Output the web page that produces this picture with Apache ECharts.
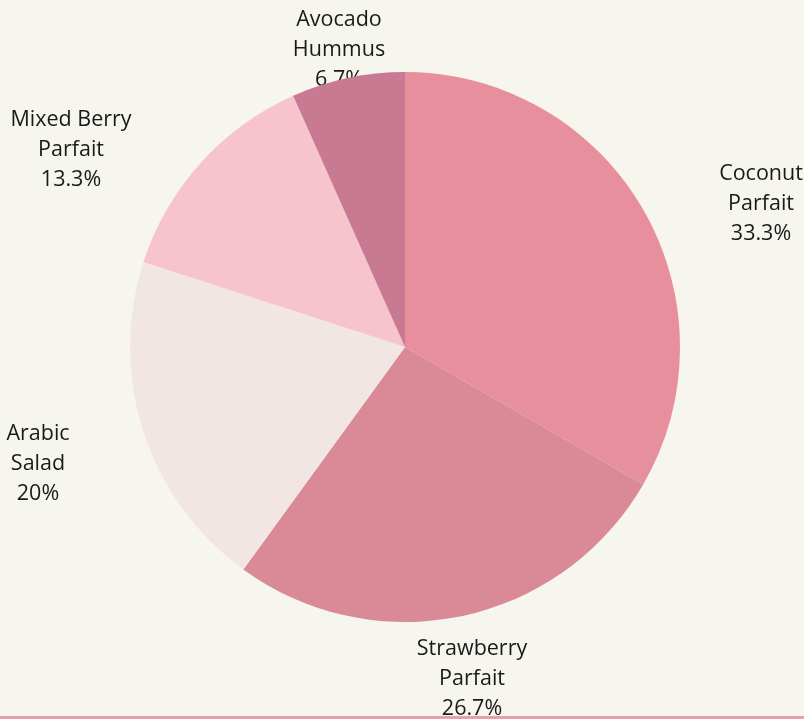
<!DOCTYPE html>
<html>
<head>
<meta charset="utf-8">
<script src="https://cdn.jsdelivr.net/npm/echarts@6/dist/echarts.min.js"></script>
<style>
html,body{margin:0;padding:0;background:#f6f5ee;}
#chart{width:804px;height:716px;border-bottom:3px solid #e8a1ab;}
</style>
</head>
<body>
<div id="chart"></div>
<script>
const categories = ['Coconut Parfait', 'Strawberry Parfait', 'Arabic Salad', 'Mixed Berry Parfait', 'Avocado Hummus'];
const values = [5, 4, 3, 2, 1];
const colors = ['#e88f9e', '#d98a96', '#f1e6e3', '#f7c3cc', '#c97a93'];
// label centres (page pixels) as placed in the reference
const labelCenters = [[761, 204], [472, 679], [38, 464], [71, 150], [339, 50]];

const data = categories.map((c, i) => ({ name: c, value: values[i], itemStyle: { color: colors[i] } }));
const chart = echarts.init(document.getElementById('chart'));
const common = {
  type: 'pie',
  center: [405, 347],
  radius: [0, 275],
  startAngle: 90,
  clockwise: true,
  percentPrecision: 1,
  silent: true,
  animation: false
};
chart.setOption({
  backgroundColor: '#f6f5ee',
  series: [
    Object.assign({}, common, {
      z: 1,
      data: data.map(d => ({ name: d.name, value: d.value, itemStyle: { color: 'rgba(0,0,0,0)' } })),
      label: {
        show: true,
        position: 'outside',
        fontFamily: 'Open Sans',
        fontSize: 21.5,
        lineHeight: 30,
        color: '#1a1a1a',
        align: 'center',
        formatter: p => p.name.replace(/ (?=\S+$)/, '\n') + '\n' + p.percent + '%'
      },
      labelLine: { show: false },
      labelLayout: p => ({ x: labelCenters[p.dataIndex][0], y: labelCenters[p.dataIndex][1], align: 'center', verticalAlign: 'middle' })
    }),
    Object.assign({}, common, {
      z: 3,
      data: data,
      label: { show: false },
      labelLine: { show: false }
    })
  ]
});
</script>
</body>
</html>
